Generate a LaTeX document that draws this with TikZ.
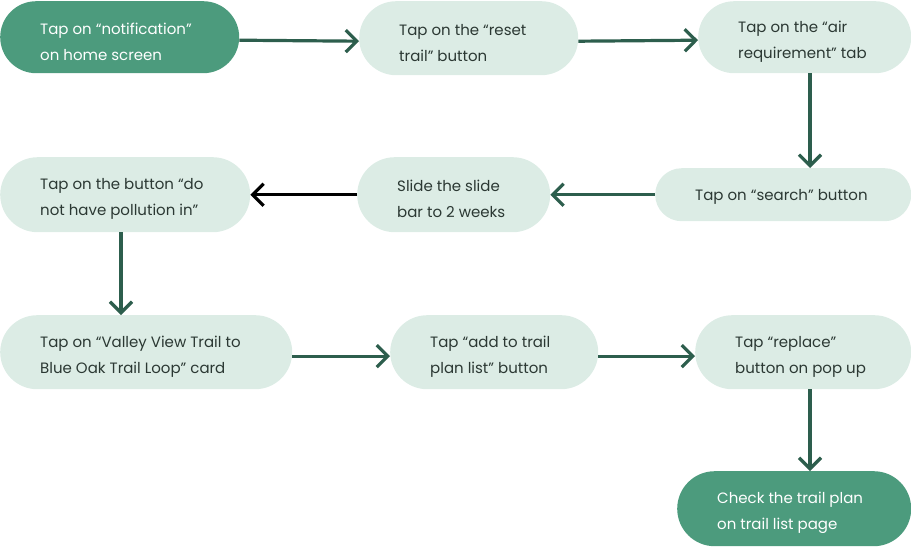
\documentclass[tikz,border=0pt]{standalone}
\usepackage{fontspec}
\setmainfont{Poppins}
\usetikzlibrary{arrows.meta,calc}
\definecolor{lightfill}{HTML}{DCECE5}
\definecolor{darkfill}{HTML}{4C9B7D}
\definecolor{arrowcol}{HTML}{2D5E4D}
\definecolor{txtdark}{HTML}{2B3833}
\tikzset{
  pillshape/.style={rectangle, inner sep=0pt, anchor=north west},
  lightpill/.style={pillshape, fill=lightfill},
  darkpill/.style={pillshape, fill=darkfill},
  pilltext/.style={inner sep=0pt, align=left, anchor=west,
    font=\fontsize{15}{26}\selectfont},
  darktext/.style={pilltext, text=txtdark},
  whitetext/.style={pilltext, text=white},
  flow/.style={draw=arrowcol, line width=3.2pt, -{Straight Barb[length=11pt,width=22pt,line width=3.2pt]}},
  blackflow/.style={flow, draw=black}
}
% style, name, x, y, w, h, textstyle, text-yshift, text
\newcommand{\pillnode}[9]{%
  \node[#1, minimum width=#5pt, minimum height=#6pt, rounded corners=#6pt/2] (#2) at (#3,#4) {};
  \node[#7] (#2t) at ($(#2.west)+(40,#8)$) {#9};}
\begin{document}
\begin{tikzpicture}[x=1pt,y=-1pt]
\useasboundingbox (0,0) rectangle (911,547);
\pillnode{darkpill}{n1}{0}{1}{239}{72}{whitetext}{4.5}{Tap on “notification”\\on home screen}
\pillnode{lightpill}{n2}{359}{1}{219}{74}{darktext}{4.5}{Tap on the “reset\\trail” button}
\pillnode{lightpill}{n3}{698}{1}{213}{72}{darktext}{4.5}{Tap on the “air\\requirement” tab}
\pillnode{lightpill}{n4}{655}{168}{256}{53}{darktext}{2}{Tap on “search” button}
\pillnode{lightpill}{n5}{357}{157}{193}{75}{darktext}{4.5}{Slide the slide\\bar to 2 weeks}
\pillnode{lightpill}{n6}{0}{157}{250}{75}{darktext}{4.5}{Tap on the button “do\\not have pollution in”}
\pillnode{lightpill}{n7}{0}{315}{292}{74}{darktext}{4.5}{Tap on “Valley View Trail to\\Blue Oak Trail Loop” card}
\pillnode{lightpill}{n8}{390}{315}{208}{74}{darktext}{4.5}{Tap “add to trail\\plan list” button}
\pillnode{lightpill}{n9}{695}{315}{216}{74}{darktext}{4.5}{Tap “replace”\\button on pop up}
\pillnode{darkpill}{n10}{677}{471}{234}{75}{whitetext}{4.5}{Check the trail plan\\on trail list page}
\draw[flow] ($(n1.east)+(0,3)$) -- ($(n2.west)+(0,3)$);
\draw[flow] ($(n2.east)+(0,3)$) -- ($(n3.west)+(0,3)$);
\draw[flow] (n3.south -| 810,0) -- (n4.north -| 810,0);
\draw[flow] (n4.west) -- (n5.east);
\draw[blackflow] (n5.west) -- (n6.east);
\draw[flow] (n6.south -| 121,0) -- (n7.north -| 121,0);
\draw[flow] ($(n7.east)+(0,4)$) -- ($(n8.west)+(0,4)$);
\draw[flow] ($(n8.east)+(0,4)$) -- ($(n9.west)+(0,4)$);
\draw[flow] (n9.south -| 810,0) -- (n10.north -| 810,0);
\end{tikzpicture}
\end{document}
